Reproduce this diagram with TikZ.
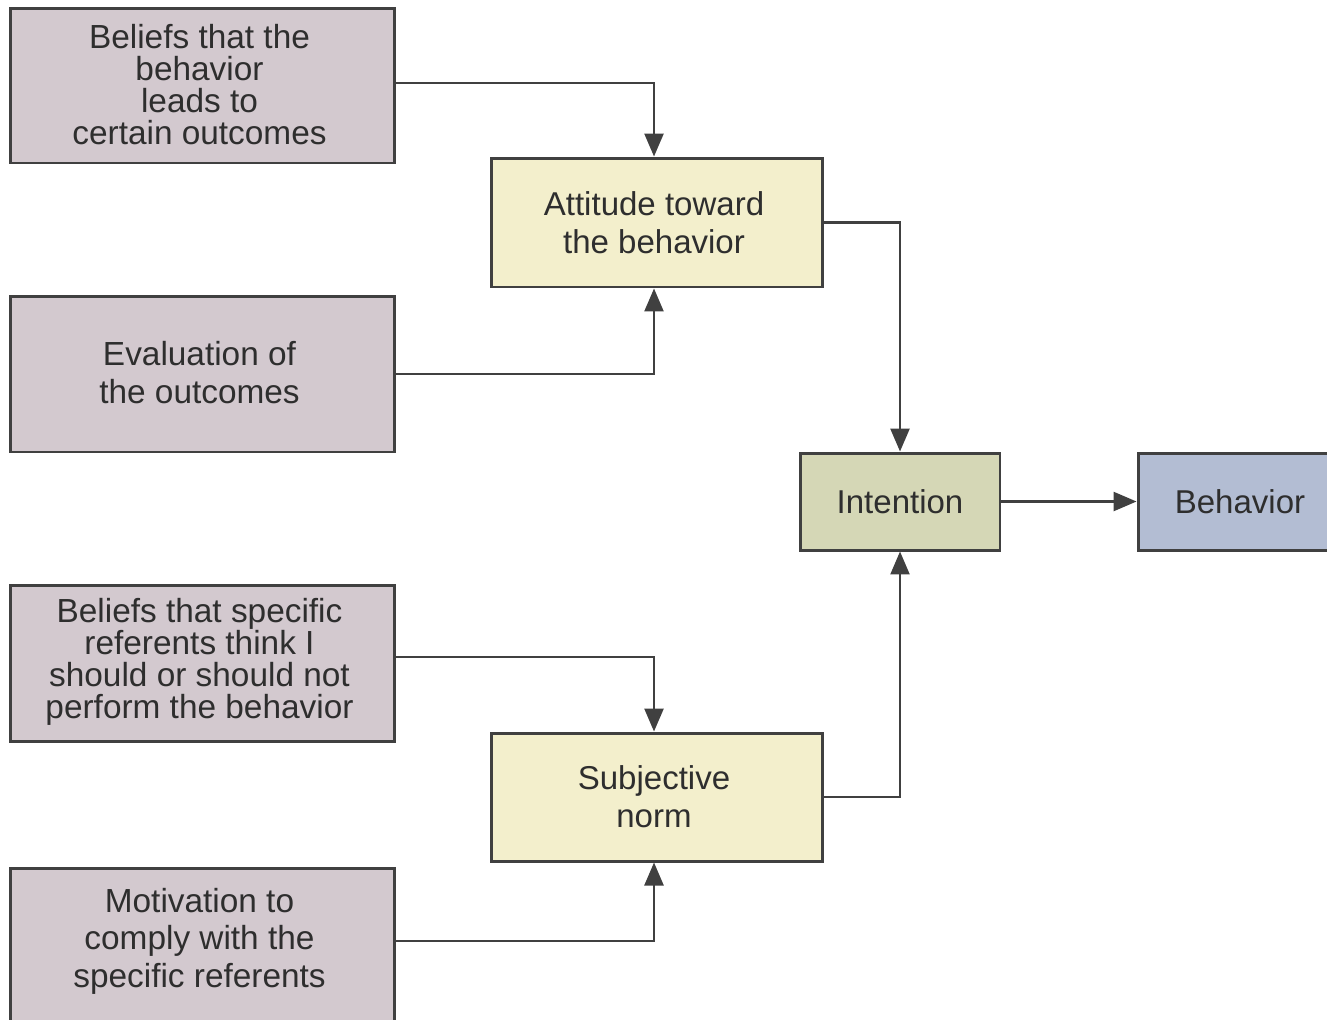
\documentclass[tikz,border=0pt]{standalone}
\usepackage{fontspec}
\setmainfont{Liberation Sans}
\usetikzlibrary{arrows.meta}
\definecolor{grayfill}{HTML}{D3C9CF}
\definecolor{yellowfill}{HTML}{F3EFCC}
\definecolor{intfill}{HTML}{D5D7B6}
\definecolor{behfill}{HTML}{B3BDD3}
\definecolor{edge}{HTML}{404040}
\definecolor{txt}{HTML}{2E2E2E}
\tikzset{
  box/.style={draw=edge, line width=1.7pt, rectangle, inner sep=0pt, align=center, text=txt},
  graybox/.style={box, fill=grayfill, minimum width=7.7cm, font=\fontsize{19}{18.2}\selectfont},
  ybox/.style={box, fill=yellowfill, minimum width=6.64cm, font=\fontsize{18.8}{21.6}\selectfont},
  plain/.style={inner sep=0pt, align=center, text=txt},
  conn/.style={draw=edge, line width=1.4pt, -{Triangle[length=0.46cm,width=0.38cm]}}
}
\begin{document}
\begin{tikzpicture}[x=0.02cm,y=-0.02cm]
\clip (0,0) rectangle (1327,1019);
\fill[white] (0,0) rectangle (1327,1019);
% left boxes
\node[graybox, minimum height=3.1cm] (b1) at (202.5,85.5) {};
\node[plain, font=\fontsize{19}{18.2}\selectfont] (b1t) at (199.5,85) {Beliefs that the\\behavior\\leads to\\certain outcomes};
\node[graybox, minimum height=3.12cm] (b2) at (202.5,374) {};
\node[plain, font=\fontsize{19}{21.6}\selectfont] (b2t) at (199.5,373) {Evaluation of\\the outcomes};
\node[graybox, minimum height=3.12cm] (b3) at (202.5,663) {};
\node[plain, font=\fontsize{19}{18.2}\selectfont] (b3t) at (199.5,662) {Beliefs that specific\\referents think I\\should or should not\\perform the behavior};
\node[graybox, minimum height=3.4cm] (b4) at (202.5,953) {};
\node[plain, font=\fontsize{19}{21.3}\selectfont] (b4t) at (199.5,941) {Motivation to\\comply with the\\specific referents};
% middle boxes
\node[ybox, minimum height=2.58cm] (att) at (657,222.5) {};
\node[plain, font=\fontsize{18.8}{21.6}\selectfont] (attt) at (654,222.5) {Attitude toward\\the behavior};
\node[ybox, minimum height=2.56cm] (sn) at (657,797) {};
\node[plain, font=\fontsize{18.8}{21.6}\selectfont] (snt) at (654,797) {Subjective\\norm};
\node[box, fill=intfill, minimum width=4cm, minimum height=1.94cm, font=\fontsize{18.8}{21.6}\selectfont] (int) at (900,501.5) {Intention};
\node[box, fill=behfill, minimum width=4.08cm, minimum height=1.94cm, font=\fontsize{18.8}{21.6}\selectfont] (beh) at (1240,501.5) {Behavior};
% connectors
\draw[conn] (b1.east |- 0,83) -| (attt |- att.north);
\draw[conn] (b2.east) -| (attt |- att.south);
\draw[conn] (b3.east |- 0,657) -| (snt |- sn.north);
\draw[conn] (b4.east |- b4t) -| (snt |- sn.south);
\draw[conn] (att.east) -| (int.north);
\draw[conn] (sn.east) -| (int.south);
\draw[conn] (int.east) -- (beh.west);
\end{tikzpicture}
\end{document}
